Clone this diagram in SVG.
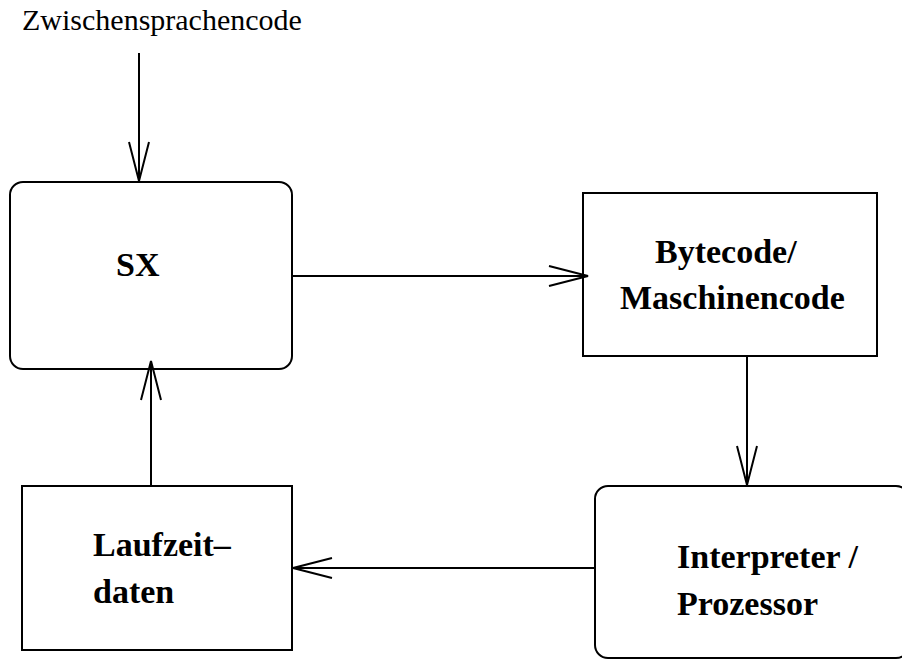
<svg xmlns="http://www.w3.org/2000/svg" width="902" height="660" viewBox="0 0 902 660">
<style>
.box{fill:#fff;stroke:#000;stroke-width:2}
.lbl{font-family:"Liberation Serif","Times New Roman",serif;font-weight:bold;font-size:34px;fill:#000}
.plain{font-family:"Liberation Serif","Times New Roman",serif;font-size:30px;fill:#000}
.edge{stroke:#000;stroke-width:2;fill:none;marker-end:url(#open)}
</style>
<defs>
<marker id="open" markerUnits="userSpaceOnUse" markerWidth="44" markerHeight="26" refX="40" refY="12" orient="auto" overflow="visible">
<path d="M1,2 L40,12 L1,22" fill="none" stroke="#000" stroke-width="2"/>
</marker>
</defs>
<rect width="902" height="660" fill="#fff"/>
<text class="plain" x="22" y="30">Zwischensprachencode</text>
<g id="sx">
<rect class="box" x="10" y="182" width="282" height="187" rx="13"/>
<text class="lbl" x="116" y="276">SX</text>
</g>
<g id="bytecode">
<rect class="box" x="583" y="193" width="294" height="163"/>
<text class="lbl" x="655" y="263">Bytecode/</text>
<text class="lbl" x="620" y="309">Maschinencode</text>
</g>
<g id="interpreter">
<rect class="box" x="595" y="486" width="314" height="172" rx="13"/>
<text class="lbl" x="677" y="568">Interpreter /</text>
<text class="lbl" x="677" y="615">Prozessor</text>
</g>
<g id="laufzeit">
<rect class="box" x="22" y="486" width="270" height="164"/>
<text class="lbl" x="93" y="556">Laufzeit–</text>
<text class="lbl" x="93" y="603">daten</text>
</g>
<g id="connectors">
<path class="edge" d="M139,53 L139,181"/>
<path class="edge" d="M292,276 L588,276"/>
<path class="edge" d="M747,356 L747,485"/>
<path class="edge" d="M595,568 L293,568"/>
<path class="edge" d="M151,486 L151,361"/>
</g>
</svg>
